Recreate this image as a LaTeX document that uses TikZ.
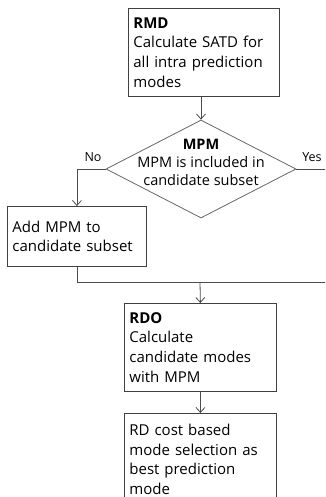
\documentclass[tikz,border=0pt]{standalone}
\usepackage{fontspec}
\setmainfont{Open Sans}
\usetikzlibrary{arrows.meta, shapes.geometric}

\begin{document}
\begin{tikzpicture}[x=1pt, y=-1pt,
  box/.style={draw=black!75, line width=0.8pt, anchor=north west, align=left,
    inner xsep=5pt, inner ysep=4pt, font=\fontsize{15}{19.6}\selectfont},
  decision/.style={draw=black!60, line width=0.8pt, diamond, aspect=1.94,
    minimum width=190pt, minimum height=98pt, inner sep=0pt},
  link/.style={draw=black!70, line width=0.8pt},
  >={Straight Barb[length=5pt,width=9pt]}]

  % page frame, the last box runs past its lower edge
  \clip (0,0) rectangle (325,497);

  % RMD step
  \node[box, text width=141pt, minimum height=88pt] (rmd) at (128,8)
    {\textbf{RMD}\\Calculate SATD for\\all intra prediction\\modes};

  % MPM decision
  \node[decision] (mpm) at (201,169) {};
  \node[align=center, font=\fontsize{14.5}{18}\selectfont] (mpmtext) at (201,162)
    {\textbf{MPM}\\MPM is included in\\candidate subset};
  \node[font=\fontsize{12.5}{15}\selectfont] (nolabel) at (93,157) {No};
  \node[font=\fontsize{12.5}{15}\selectfont] (yeslabel) at (312,157) {Yes};

  % No branch
  \node[box, text width=129pt, minimum height=60pt] (add) at (7,206)
    {Add MPM to\\candidate subset};

  % RDO step
  \node[box, text width=142pt, minimum height=88pt] (rdo) at (124,303)
    {\textbf{RDO}\\Calculate\\candidate modes\\with MPM};

  % final selection, cut by the page
  \node[box, text width=142pt, minimum height=92pt] (best) at (124,413)
    {RD cost based\\mode selection as\\best prediction\\mode};

  % connectors
  \coordinate (merge) at (200,282);
  \coordinate (yesdown) at (330,282);
  \draw[link,->] (rmd.south -| mpm.north) -- (mpm.north);
  \draw[link,->] (mpm.west) -| (add.north);
  \draw[link] (mpm.east) -| (yesdown) -- (merge);
  \draw[link] (add.south) |- (merge);
  \draw[link,->] (merge) -- (rdo.north);
  \draw[link,->] (rdo.south) -- (best.north);

\end{tikzpicture}
\end{document}
